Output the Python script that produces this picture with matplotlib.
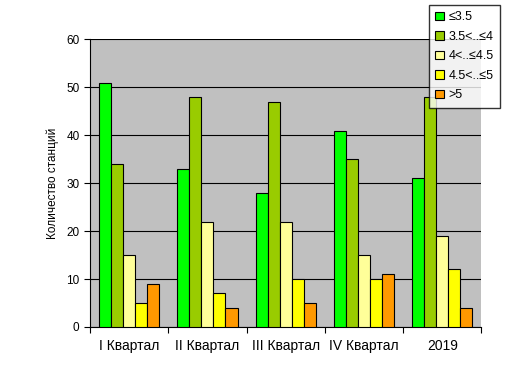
import matplotlib.pyplot as plt
import numpy as np

plt.rcParams['font.family'] = ['Liberation Sans', 'DejaVu Sans']

categories = ['I Квартал', 'II Квартал', 'III Квартал', 'IV Квартал', '2019']
series_names = ['≤3.5', '3.5<..≤4', '4<..≤4.5', '4.5<..≤5', '>5']
le_35 = [51, 33, 28, 41, 31]
s35_4 = [34, 48, 47, 35, 48]
s4_45 = [15, 22, 22, 15, 19]
s45_5 = [5, 7, 10, 10, 12]
gt_5 = [9, 4, 5, 11, 4]
colors = ['#00FF00', '#99CC00', '#FFFF99', '#FFFF00', '#FF9900']


def main():
    fig = plt.figure(figsize=(5.31, 3.82), dpi=100)
    ax = fig.add_axes([0.1695, 0.144, 0.737, 0.7526])
    ax.set_facecolor('#C0C0C0')

    x = np.arange(len(categories))
    w = 0.154
    data = [le_35, s35_4, s4_45, s45_5, gt_5]
    for i, (vals, name, c) in enumerate(zip(data, series_names, colors)):
        ax.bar(x + (i - 2) * w, vals, w, color=c, edgecolor='black',
               linewidth=0.8, label=name, zorder=3)

    ax.set_xlim(-0.5, len(categories) - 0.5)
    ax.set_ylim(0, 60)
    ax.set_yticks(range(0, 61, 10))
    ax.yaxis.grid(True, color='black', linewidth=0.8, zorder=1)
    ax.set_axisbelow(True)

    # метки между группами, подписи по центру
    ax.set_xticks(np.arange(-0.5, len(categories), 1.0))
    ax.set_xticklabels([])
    ax.set_xticks(x, minor=True)
    ax.set_xticklabels(categories, minor=True)
    ax.tick_params(axis='x', which='minor', length=0, pad=9)
    ax.tick_params(axis='x', which='major', length=4, direction='out')
    ax.tick_params(axis='y', length=4, direction='out')
    ax.tick_params(labelsize=8.5)

    for s in ['top', 'right']:
        ax.spines[s].set_visible(False)
    ax.spines['left'].set_color('black')
    ax.spines['bottom'].set_color('black')

    ax.set_ylabel('Количество станций', fontsize=8.5, labelpad=5)

    leg = fig.legend(loc='upper left', bbox_to_anchor=(429 / 531, 1 - 5 / 382),
                     borderaxespad=0, fontsize=9, frameon=True, fancybox=False,
                     edgecolor='black', handlelength=0.7, handleheight=0.7,
                     labelspacing=0.6, borderpad=0.5, handletextpad=0.35)
    leg.get_frame().set_linewidth(1.0)

    fig.savefig('out.png', dpi=100)


if __name__ == "__main__":
    main()
